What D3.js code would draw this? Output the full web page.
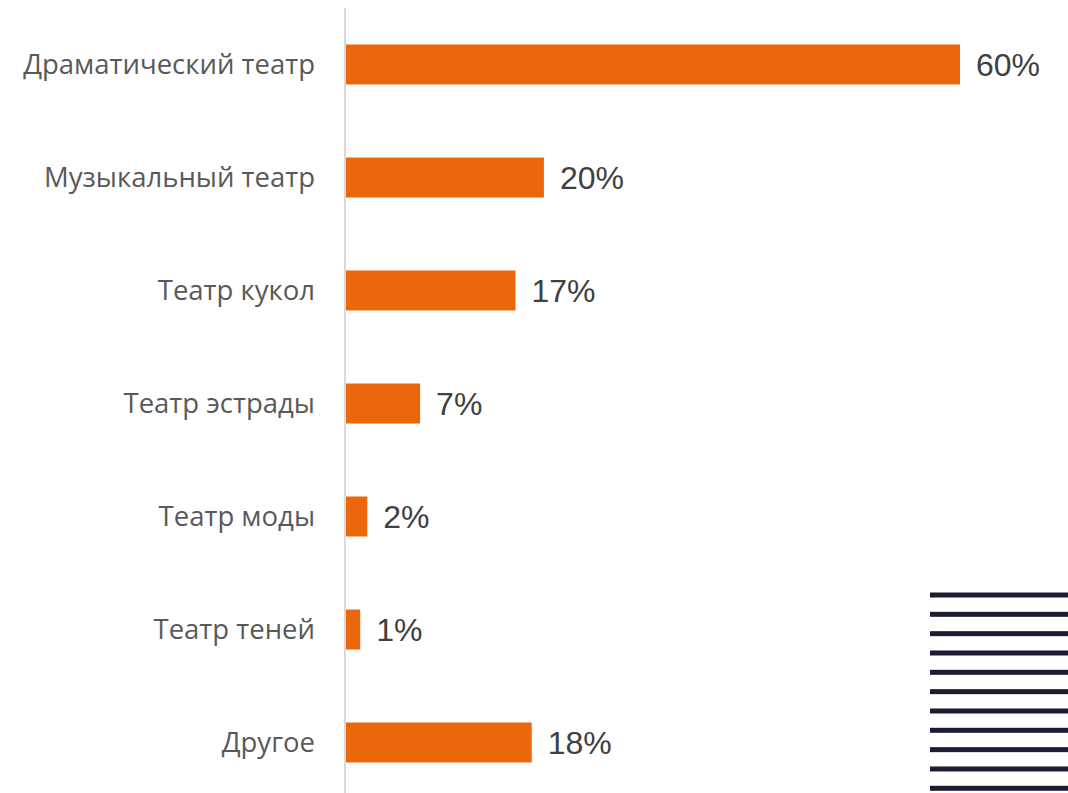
<!DOCTYPE html>
<html>
<head>
<meta charset="utf-8">
<script src="https://cdn.jsdelivr.net/npm/d3@7"></script>
<style>
  body { margin: 0; background: #fff; }
</style>
</head>
<body>
<svg id="bars" width="1068" height="793"></svg>
<script>
const categories = ['Драматический театр', 'Музыкальный театр', 'Театр кукол', 'Театр эстрады', 'Театр моды', 'Театр теней', 'Другое'];
const values = [60.5, 19.5, 16.7, 7.3, 2.1, 1.4, 18.3];
const valueLabels = ['60%', '20%', '17%', '7%', '2%', '1%', '18%'];

const svg = d3.select('#bars');
const width = +svg.attr('width');
const height = +svg.attr('height');
const margin = { top: 8, right: 0, bottom: 0, left: 346 };
const barColor = '#eb670b';

// x scale: 1% ~ 10.15px
const x = d3.scaleLinear()
    .domain([0, 60.5])
    .range([margin.left, 960]);

const y = d3.scaleBand()
    .domain(categories)
    .range([8, 799])
    .paddingInner(0.646)
    .paddingOuter(0.323);

// vertical axis line
svg.append('line')
    .attr('x1', margin.left - 1).attr('x2', margin.left - 1)
    .attr('y1', margin.top).attr('y2', height)
    .attr('stroke', '#d9d9d9')
    .attr('stroke-width', 2);

svg.selectAll('.bar')
    .data(values).enter()
    .append('rect')
    .attr('class', 'bar')
    .attr('x', x(0))
    .attr('y', (d, i) => y(categories[i]))
    .attr('width', d => x(d) - x(0))
    .attr('height', y.bandwidth())
    .attr('fill', barColor);

svg.selectAll('.valueLabel')
    .data(values).enter()
    .append('text')
    .attr('class', 'valueLabel')
    .attr('x', d => x(d) + 16)
    .attr('y', (d, i) => y(categories[i]) + y.bandwidth() / 2)
    .attr('dy', '0.36em')
    .style('font-family', '"Liberation Sans", Arial, sans-serif')
    .style('font-size', '32px')
    .style('fill', '#404040')
    .text((d, i) => valueLabels[i]);

svg.selectAll('.catLabel')
    .data(categories).enter()
    .append('text')
    .attr('class', 'catLabel')
    .attr('x', 315)
    .attr('y', d => y(d) + y.bandwidth() / 2)
    .attr('dy', '0.36em')
    .attr('text-anchor', 'end')
    .style('font-family', '"Open Sans", "Noto Sans", sans-serif')
    .style('font-size', '27.5px')
    .style('fill', '#595959')
    .text(d => d);

// decorative stripes, bottom right
const stripes = d3.range(11);
const sy = d3.scaleLinear().domain([0, 10]).range([595, 788.3]);
svg.selectAll('.stripe')
    .data(stripes).enter()
    .append('rect')
    .attr('class', 'stripe')
    .attr('x', 930)
    .attr('y', d => sy(d) - 2.5)
    .attr('width', width - 930)
    .attr('height', 5)
    .attr('fill', '#1b1d35');
</script>
</body>
</html>
